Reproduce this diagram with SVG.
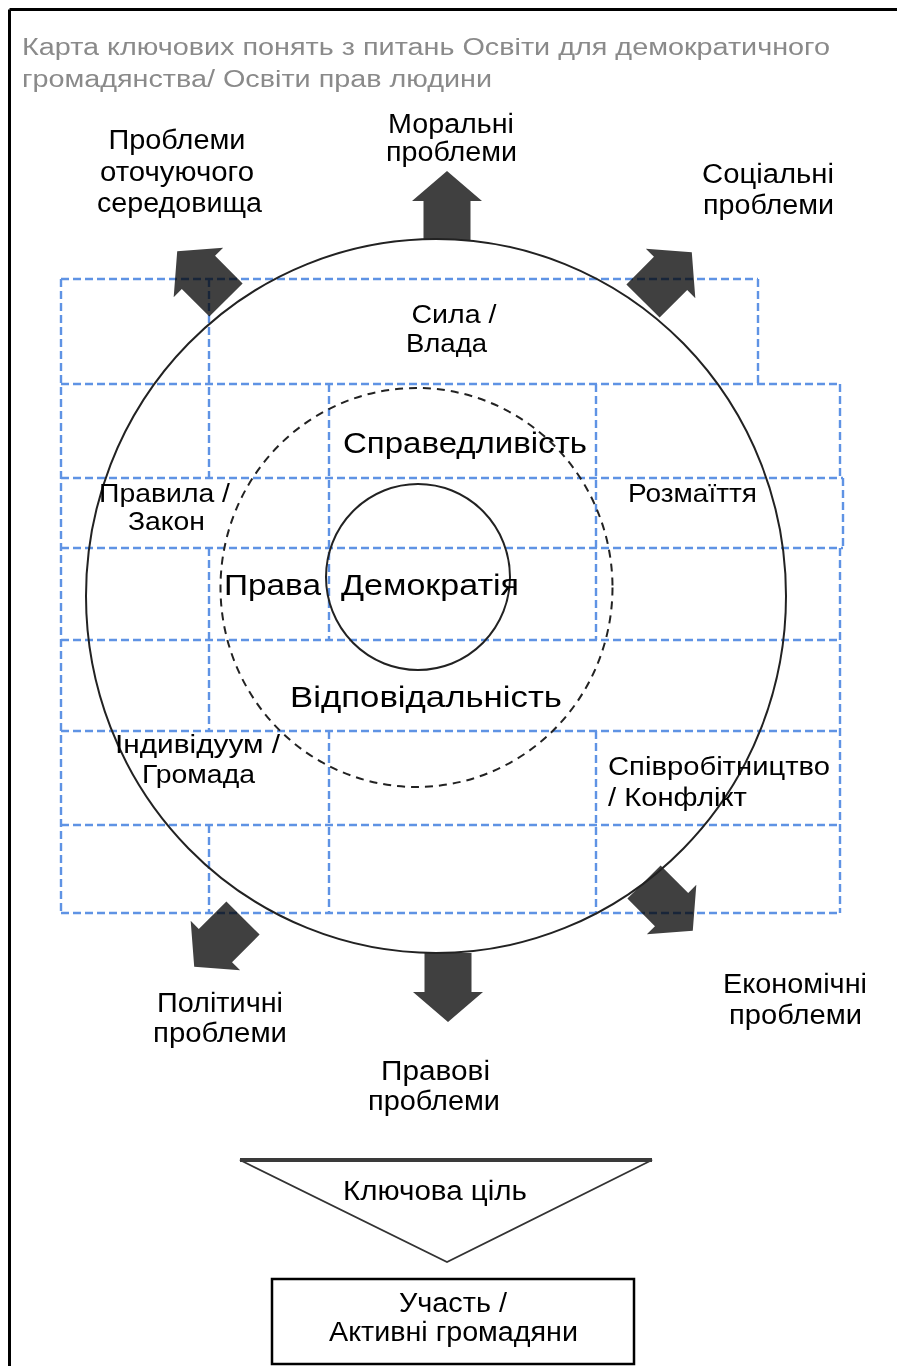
<svg xmlns="http://www.w3.org/2000/svg" width="897" height="1366" viewBox="0 0 897 1366">
<style>
text{font-family:"Liberation Sans",Arial,sans-serif;fill:#000;text-anchor:middle}
.t{font-size:23px;fill:#8a8a8a;text-anchor:start}
.L{font-size:27px}
.M{font-size:25px}
.B{font-size:29px}
.grid line{stroke:#5f93e4;stroke-width:2.4;stroke-dasharray:8 4}
.ring{fill:none;stroke:#222;stroke-width:2}
.arr{fill:#404040}
</style>
<defs>
<path id="ar" d="M-23.5,0 V-39 H-35 L0,-69 L35,-39 H23.5 V0 Z"/>
</defs>
<rect width="897" height="1366" fill="#fff"/>
<g id="frame" stroke="#000" stroke-width="3" fill="none">
<line x1="9.5" y1="9.5" x2="897" y2="9.5"/>
<line x1="9.5" y1="9.5" x2="9.5" y2="1366"/>
</g>
<g id="title">
<text class="t" x="22" y="55" textLength="808" lengthAdjust="spacingAndGlyphs">Карта ключових понять  з питань  Освіти для демократичного</text>
<text class="t" x="22" y="87" textLength="470" lengthAdjust="spacingAndGlyphs">громадянства/ Освіти  прав людини</text>
</g>
<g id="connectors" class="arr">
<use href="#ar" transform="translate(447,240)"/>
<use href="#ar" transform="translate(448,953) rotate(180)"/>
<use href="#ar" transform="translate(226,300) rotate(-45)"/>
<use href="#ar" transform="translate(643,301) rotate(45)"/>
<use href="#ar" transform="translate(243,918) rotate(-135)"/>
<use href="#ar" transform="translate(644,882) rotate(135)"/>
</g>
<g id="grid" class="grid" style="mix-blend-mode:multiply">
<line x1="61" y1="279" x2="758" y2="279"/>
<line x1="61" y1="384" x2="840" y2="384"/>
<line x1="61" y1="478" x2="843" y2="478"/>
<line x1="61" y1="548" x2="843" y2="548"/>
<line x1="61" y1="640" x2="840" y2="640"/>
<line x1="61" y1="731" x2="840" y2="731"/>
<line x1="61" y1="825" x2="840" y2="825"/>
<line x1="61" y1="913" x2="840" y2="913"/>
<line x1="61" y1="279" x2="61" y2="913"/>
<line x1="758" y1="279" x2="758" y2="384"/>
<line x1="840" y1="384" x2="840" y2="478"/>
<line x1="843" y1="478" x2="843" y2="548"/>
<line x1="840" y1="548" x2="840" y2="913"/>
<line x1="209" y1="279" x2="209" y2="478"/>
<line x1="209" y1="548" x2="209" y2="731"/>
<line x1="209" y1="825" x2="209" y2="913"/>
<line x1="329" y1="384" x2="329" y2="640"/>
<line x1="329" y1="731" x2="329" y2="913"/>
<line x1="596" y1="384" x2="596" y2="640"/>
<line x1="596" y1="731" x2="596" y2="913"/>
</g>
<g id="outer-circle"><ellipse class="ring" cx="436" cy="596" rx="350" ry="357"/></g>
<g id="dashed-circle"><ellipse class="ring" cx="416.5" cy="587.5" rx="196" ry="199.5" stroke-dasharray="8 6"/></g>
<g id="inner-circle"><ellipse class="ring" cx="418" cy="577" rx="92" ry="93"/></g>
<g id="env">
<text class="L" x="177" y="149" textLength="137" lengthAdjust="spacingAndGlyphs">Проблеми</text>
<text class="L" x="177" y="181" textLength="154" lengthAdjust="spacingAndGlyphs">оточуючого</text>
<text class="L" x="179.5" y="212" textLength="165" lengthAdjust="spacingAndGlyphs">середовища</text>
</g>
<g id="moral">
<text class="L" x="451" y="133" textLength="126" lengthAdjust="spacingAndGlyphs">Моральні</text>
<text class="L" x="451.5" y="161" textLength="131" lengthAdjust="spacingAndGlyphs">проблеми</text>
</g>
<g id="social">
<text class="L" x="768" y="183" textLength="132" lengthAdjust="spacingAndGlyphs">Соціальні</text>
<text class="L" x="768.5" y="214" textLength="131" lengthAdjust="spacingAndGlyphs">проблеми</text>
</g>
<g id="power">
<text class="M" x="454" y="323" textLength="85" lengthAdjust="spacingAndGlyphs">Сила /</text>
<text class="M" x="446.5" y="352" textLength="81" lengthAdjust="spacingAndGlyphs">Влада</text>
</g>
<g id="justice"><text class="B" x="465" y="453" textLength="244" lengthAdjust="spacingAndGlyphs">Справедливість</text></g>
<g id="rules">
<text class="M" x="164.5" y="502" textLength="131" lengthAdjust="spacingAndGlyphs">Правила /</text>
<text class="M" x="166.5" y="530" textLength="77" lengthAdjust="spacingAndGlyphs">Закон</text>
</g>
<g id="diversity"><text class="M" x="692.5" y="502" textLength="129" lengthAdjust="spacingAndGlyphs">Розмаїття</text></g>
<g id="rights"><text class="B" x="272.5" y="595" textLength="97" lengthAdjust="spacingAndGlyphs">Права</text></g>
<g id="democracy"><text class="B" x="430" y="595" textLength="178" lengthAdjust="spacingAndGlyphs">Демократія</text></g>
<g id="responsibility"><text class="B" x="426" y="707" textLength="272" lengthAdjust="spacingAndGlyphs">Відповідальність</text></g>
<g id="individual">
<text class="M" x="197.5" y="753" textLength="165" lengthAdjust="spacingAndGlyphs">Індивідуум /</text>
<text class="M" x="198.5" y="783" textLength="113" lengthAdjust="spacingAndGlyphs">Громада</text>
</g>
<g id="cooperation">
<text class="M" x="719" y="775" textLength="222" lengthAdjust="spacingAndGlyphs">Співробітництво</text>
<text class="M" x="677.5" y="806" textLength="139" lengthAdjust="spacingAndGlyphs">/ Конфлікт</text>
</g>
<g id="political">
<text class="L" x="220" y="1012" textLength="126" lengthAdjust="spacingAndGlyphs">Політичні</text>
<text class="L" x="220" y="1042" textLength="134" lengthAdjust="spacingAndGlyphs">проблеми</text>
</g>
<g id="legal">
<text class="L" x="435.5" y="1080" textLength="109" lengthAdjust="spacingAndGlyphs">Правові</text>
<text class="L" x="434" y="1110" textLength="132" lengthAdjust="spacingAndGlyphs">проблеми</text>
</g>
<g id="economic">
<text class="L" x="795" y="993" textLength="144" lengthAdjust="spacingAndGlyphs">Економічні</text>
<text class="L" x="795.5" y="1024" textLength="133" lengthAdjust="spacingAndGlyphs">проблеми</text>
</g>
<g id="key-goal">
<polygon points="240,1160 652,1160 447,1262" fill="#fff" stroke="#333" stroke-width="1.8"/>
<line x1="240" y1="1160" x2="652" y2="1160" stroke="#3a3a3a" stroke-width="4"/>
<text class="L" x="435" y="1200" textLength="184" lengthAdjust="spacingAndGlyphs">Ключова ціль</text>
</g>
<g id="participation">
<rect x="272" y="1279" width="362" height="85" fill="#fff" stroke="#000" stroke-width="2.5"/>
<text class="L" x="453" y="1312" textLength="108" lengthAdjust="spacingAndGlyphs">Участь /</text>
<text class="L" x="453.5" y="1341" textLength="249" lengthAdjust="spacingAndGlyphs">Активні громадяни</text>
</g>
</svg>
